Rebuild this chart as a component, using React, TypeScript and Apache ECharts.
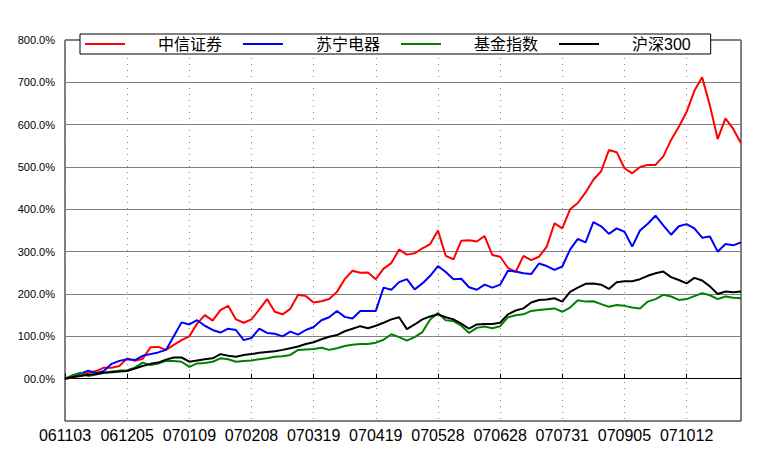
import React, { useEffect, useRef } from "react";
import * as echarts from "echarts";

const tickLabels = ["061103", "061205", "070109", "070208", "070319", "070419", "070528", "070628", "070731", "070905", "071012"];
const seriesNames = ["中信证券", "苏宁电器", "基金指数", "沪深300"];
const seriesColors = ["#ff0000", "#0000ff", "#008000", "#000000"];

const citic = [0, 3, 8, 14, 18, 26, 26, 30, 48, 42, 47, 74, 75, 68, 80, 91, 100, 130, 150, 137, 162, 172, 140, 132, 140, 163, 188, 158, 152, 165, 198, 195, 180, 183, 188, 205, 235, 255, 250, 251, 235, 260, 273, 305, 293, 296, 308, 318, 350, 290, 282, 326, 327, 324, 337, 292, 288, 262, 252, 290, 280, 288, 312, 367, 355, 400, 415, 440, 470, 490, 540, 535, 497, 485, 500, 505, 505, 525, 564, 595, 630, 680, 712, 645, 566, 615, 590, 556];
const suning = [0, 5, 12, 19, 13, 18, 35, 42, 46, 44, 54, 58, 62, 68, 100, 133, 128, 138, 125, 115, 109, 118, 115, 91, 96, 118, 108, 106, 100, 111, 104, 115, 122, 138, 145, 160, 146, 142, 160, 160, 160, 215, 210, 228, 235, 211, 225, 243, 266, 252, 235, 236, 216, 210, 222, 215, 222, 255, 253, 249, 247, 272, 266, 257, 265, 305, 330, 322, 370, 360, 342, 355, 347, 312, 350, 366, 385, 362, 340, 360, 365, 355, 333, 336, 300, 318, 315, 322];
const fundIndex = [0, 8, 14, 6, 10, 14, 17, 19, 20, 26, 38, 32, 36, 42, 42, 40, 28, 36, 37, 40, 48, 46, 40, 42, 43, 46, 48, 52, 53, 56, 68, 69, 70, 73, 68, 72, 77, 80, 82, 82, 85, 92, 105, 98, 90, 98, 110, 140, 155, 138, 136, 125, 108, 120, 123, 119, 124, 145, 150, 152, 160, 162, 164, 166, 158, 168, 185, 182, 183, 176, 170, 174, 172, 168, 166, 182, 188, 198, 194, 186, 188, 195, 202, 197, 188, 194, 191, 190];
const hs300 = [0, 4, 6, 9, 11, 14, 15, 17, 18, 24, 30, 35, 38, 45, 50, 50, 40, 43, 46, 48, 58, 54, 52, 56, 58, 61, 63, 65, 68, 72, 76, 82, 86, 93, 99, 103, 112, 118, 124, 119, 125, 132, 140, 145, 117, 128, 140, 147, 152, 145, 140, 130, 118, 128, 129, 129, 132, 152, 161, 166, 180, 186, 187, 190, 182, 205, 215, 224, 225, 222, 212, 228, 230, 230, 235, 243, 249, 253, 240, 233, 225, 238, 232, 218, 200, 206, 204, 206];

const STEP = 8;
const FONT = "Liberation Sans, Arial, 'Noto Sans CJK SC', sans-serif";

export default function App() {
  const ref = useRef<HTMLDivElement>(null);
  useEffect(() => {
    if (!ref.current) return;
    const chart = echarts.init(ref.current, undefined, { renderer: "svg" });
    const categories = citic.map((_, i) => (i % STEP === 0 && tickLabels[i / STEP] ? tickLabels[i / STEP] : "d" + i));
    const allData = [citic, suning, fundIndex, hs300];
    chart.setOption({
      animation: false,
      backgroundColor: "#ffffff",
      textStyle: { fontFamily: FONT },
      grid: { left: 65, top: 40, right: 29, bottom: 39, show: true, borderColor: "#000", borderWidth: 1, backgroundColor: "transparent" },
      legend: {
        left: 80,
        top: 34,
        padding: [2, 10, 2, 5],
        borderColor: "#000",
        borderWidth: 1,
        backgroundColor: "#fff",
        itemWidth: 40,
        itemHeight: 2,
        itemGap: 11,
        icon: "rect",
        textStyle: { fontSize: 16, lineHeight: 16, color: "#000", fontFamily: FONT, padding: [0, 10, 0, 28] },
        data: seriesNames,
      },
      xAxis: {
        type: "category",
        boundaryGap: false,
        data: categories,
        axisLine: { show: true, lineStyle: { color: "#000" } },
        axisTick: { show: true, inside: true, length: 5, interval: STEP - 1, lineStyle: { color: "#000" } },
        axisLabel: { interval: STEP - 1, fontSize: 16, color: "#000", margin: 6, fontFamily: FONT },
        splitLine: { show: true, interval: STEP - 1, lineStyle: { color: "#888", width: 1, type: [1, 5] } },
      },
      yAxis: {
        type: "value",
        min: -100,
        max: 800,
        interval: 100,
        axisLine: { show: false },
        axisTick: { show: false },
        axisLabel: {
          fontSize: 11,
          color: "#000",
          margin: 10,
          fontFamily: FONT,
          formatter: (v: number) => (v === -100 ? "" : v === 0 ? "00.0%" : v.toFixed(1) + "%"),
        },
        splitLine: { show: true, lineStyle: { color: "#808080", width: 1 } },
      },
      series: seriesNames.map((name, k) => ({
        name,
        type: "line",
        data: allData[k],
        showSymbol: false,
        symbol: "none",
        lineStyle: { color: seriesColors[k], width: 2 },
        itemStyle: { color: seriesColors[k] },
      })),
    });
    return () => chart.dispose();
  }, []);
  return <div ref={ref} style={{ position: "fixed", left: 0, top: 0, width: 770, height: 460, background: "#fff" }} />;
}
